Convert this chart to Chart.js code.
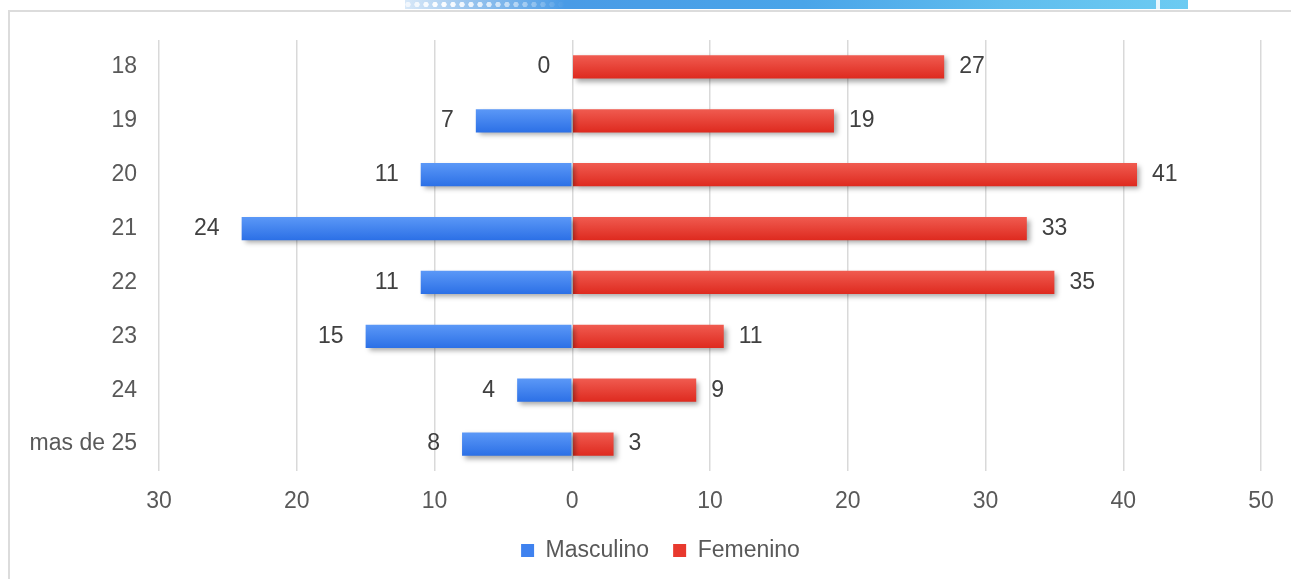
<!DOCTYPE html>
<html>
<head>
<meta charset="utf-8">
<script src="https://cdn.jsdelivr.net/npm/chart.js@4.4.1/dist/chart.umd.min.js"></script>
<style>
  html, body { margin: 0; padding: 0; background: #fff; width: 1291px; height: 579px; overflow: hidden; }
  #wrap { position: absolute; left: 0; top: 0; width: 1291px; height: 579px; }
  canvas { position: absolute; left: 0; top: 0; }
  .strip { position: absolute; left: 405px; top: 0; width: 783px; height: 9px;
    background: linear-gradient(to right, #d8e8f8 0px, #9cc6ee 60px, #4a9be6 160px, #4aa5e9 400px, #60bdee 600px, #6ccbf2 783px); }
  .dots { position: absolute; left: 405px; top: 0; width: 160px; height: 9px;
    background: radial-gradient(circle at 3px 4.5px, rgba(255,255,255,0.95) 2.4px, rgba(255,255,255,0) 2.9px) 0 0 / 9px 9px repeat-x;
    -webkit-mask-image: linear-gradient(to right, rgba(0,0,0,0.7), #000 20%, rgba(0,0,0,0.8) 50%, rgba(0,0,0,0) 100%);
    mask-image: linear-gradient(to right, rgba(0,0,0,0.7), #000 20%, rgba(0,0,0,0.8) 50%, rgba(0,0,0,0) 100%); }
  .gap { position: absolute; left: 1156px; top: 0; width: 4px; height: 9px; background: #e8f6fd; }
  .topline { position: absolute; left: 8px; top: 10px; width: 1283px; height: 2px; background: #dcdcdc; }
  .leftline { position: absolute; left: 8px; top: 10px; width: 2px; height: 569px; background: #dcdcdc; }
</style>
</head>
<body>
<div id="wrap">
  <div class="strip"></div>
  <div class="dots"></div>
  <div class="gap"></div>
  <div class="topline"></div>
  <div class="leftline"></div>
  <canvas id="c" width="1291" height="579"></canvas>
</div>
<script>
const categories = ["18", "19", "20", "21", "22", "23", "24", "mas de 25"];
const masculino = [0, 7, 11, 24, 11, 15, 4, 8];
const femenino = [27, 19, 41, 33, 35, 11, 9, 3];
const xTicks = [-30, -20, -10, 0, 10, 20, 30, 40, 50];

const FONT = "'Liberation Sans', Arial, sans-serif";
const BAR_PCT = 0.43;

function barGradient(ctx, top, bottom) {
  const chart = ctx.chart;
  const ys = chart.scales.y;
  if (!ys || isNaN(ys.getPixelForValue(0))) return bottom;
  const cy = ys.getPixelForValue(ctx.dataIndex);
  const step = Math.abs(ys.getPixelForValue(1) - ys.getPixelForValue(0)) || 53;
  const half = step * BAR_PCT / 2;
  const g = chart.ctx.createLinearGradient(0, cy - half, 0, cy + half);
  g.addColorStop(0, top);
  g.addColorStop(1, bottom);
  return g;
}

const shadowPlugin = {
  id: 'shadow',
  afterLayout(chart) {
    if (chart.legend) chart.legend.left = 60;
  },
  beforeDatasetsDraw(chart) {
    const c = chart.ctx;
    c.save();
    c.shadowColor = 'rgba(0,0,0,0.35)';
    c.shadowBlur = 5;
    c.shadowOffsetX = 3;
    c.shadowOffsetY = 3;
  },
  afterDatasetsDraw(chart) {
    chart.ctx.restore();
    const c = chart.ctx;
    c.save();
    c.font = "23px " + FONT;
    c.fillStyle = '#404040';
    c.textBaseline = 'middle';
    chart.data.datasets.forEach((ds, di) => {
      const meta = chart.getDatasetMeta(di);
      meta.data.forEach((el, i) => {
        const v = Math.abs(ds.data[i]);
        if (di === 0) {
          c.textAlign = 'right';
          c.fillText(String(v), el.x - 22, el.y);
        } else {
          c.textAlign = 'left';
          c.fillText(String(v), el.x + 15, el.y);
        }
      });
    });
    c.restore();
  }
};

new Chart(document.getElementById('c'), {
  type: 'bar',
  data: {
    labels: categories,
    datasets: [
      {
        label: 'Masculino',
        data: masculino.map(v => -v),
        backgroundColor: (ctx) => barGradient(ctx, '#5b98f7', '#2c70e6'),
        borderWidth: 0,
        barPercentage: BAR_PCT,
        categoryPercentage: 1
      },
      {
        label: 'Femenino',
        data: femenino,
        backgroundColor: (ctx) => barGradient(ctx, '#f05b50', '#de2a1f'),
        borderWidth: 0,
        barPercentage: BAR_PCT,
        categoryPercentage: 1
      }
    ]
  },
  options: {
    indexAxis: 'y',
    responsive: false,
    animation: false,
    devicePixelRatio: 1,
    layout: { padding: { top: 40, right: 30, left: 0, bottom: 7 } },
    scales: {
      x: {
        stacked: true,
        min: -30,
        max: 50,
        afterBuildTicks(axis) { axis.ticks = xTicks.map(v => ({ value: v })); },
        afterFit(axis) { axis.height = 44; },
        ticks: {
          callback: (v) => String(Math.abs(v)),
          color: '#595959',
          font: { family: FONT, size: 23 },
          padding: 17,
          maxRotation: 0
        },
        grid: { color: '#d9d9d9', lineWidth: 1.5, drawTicks: false },
        border: { display: false }
      },
      y: {
        stacked: true,
        afterFit(axis) { axis.width = 159; },
        ticks: {
          color: '#595959',
          font: { family: FONT, size: 23 },
          padding: 22
        },
        grid: { display: false, drawTicks: false },
        border: { display: false }
      }
    },
    plugins: {
      legend: {
        position: 'bottom',
        labels: {
          color: '#595959',
          font: { family: FONT, size: 23 },
          boxWidth: 13,
          boxHeight: 13,
          padding: 24,
          generateLabels(chart) {
            const cols = ['#3f82ef', '#e8392e'];
            return chart.data.datasets.map((ds, i) => ({
              text: ds.label,
              fillStyle: cols[i],
              strokeStyle: cols[i],
              lineWidth: 0,
              hidden: false,
              datasetIndex: i,
              fontColor: '#595959'
            }));
          }
        }
      },
      tooltip: { enabled: false }
    }
  },
  plugins: [shadowPlugin]
});
</script>
</body>
</html>
